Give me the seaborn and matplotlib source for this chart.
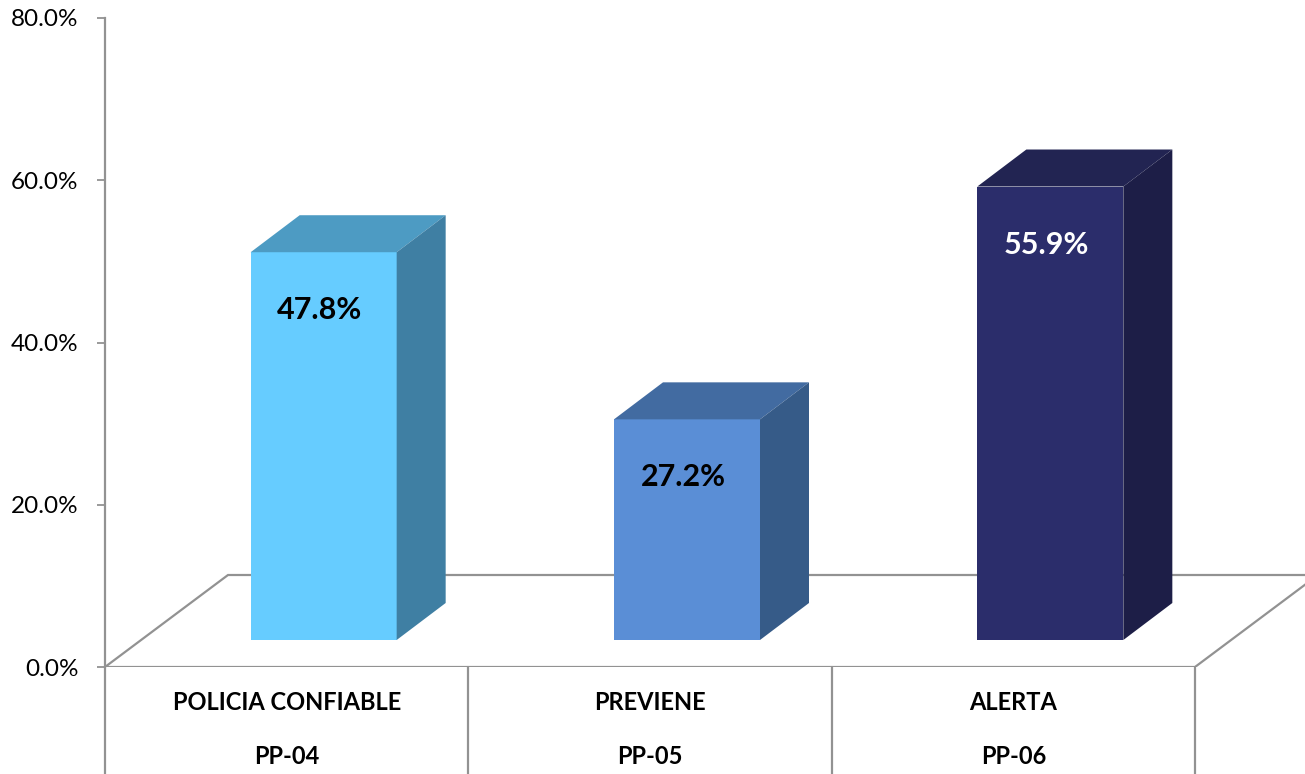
import matplotlib
matplotlib.use("Agg")
import matplotlib.pyplot as plt
import seaborn as sns
import pandas as pd
from matplotlib.patches import Polygon
from matplotlib.lines import Line2D
from matplotlib.ticker import FuncFormatter

# ---- data ----
categories = ["POLICIA CONFIABLE", "PREVIENE", "ALERTA"]
codes = ["PP-04", "PP-05", "PP-06"]
values = [47.8, 27.2, 55.9]
value_labels = ["47.8%", "27.2%", "55.9%"]
yticks = [0, 20, 40, 60, 80]

front_colors = ["#66CCFF", "#5A8ED6", "#2B2D6B"]
top_colors = ["#4D9BC3", "#426BA1", "#222452"]
side_colors = ["#3F7FA3", "#365B88", "#1D1E47"]
label_colors = ["black", "black", "white"]

sns.set_theme(style="white")
plt.rcParams["font.family"] = ["Lato", "DejaVu Sans"]

W, H = 1305, 774
fig = plt.figure(figsize=(W / 100, H / 100), dpi=100)
ax_left, ax_right, ax_bottom, ax_top = 105, 1305, 667, 18
ax = fig.add_axes([ax_left / W, 1 - ax_bottom / H, (ax_right - ax_left) / W, (ax_bottom - ax_top) / H])

px_x = (1195 - 105) / 3.0         # pixels per category unit
px_y = (667 - 18) / 80.0          # pixels per percent

# depth geometry
floor_dx, floor_dy = 123 / px_x, 92 / px_y
front_dx, front_dy = 37 / px_x, 27 / px_y
side_dx, side_dy = 49 / px_x, 37 / px_y
bar_w = 146 / px_x

df = pd.DataFrame({"cat": categories, "val": values})
sns.barplot(data=df, x="cat", y="val", hue="cat", palette=front_colors,
            width=bar_w, legend=False, ax=ax, saturation=1, zorder=3)
bars = list(ax.patches)

ax.set_xlim(-0.5, -0.5 + (ax_right - ax_left) / px_x)
ax.set_ylim(0, 80)

# floor
gray = "#929292"
floor = Polygon([(-0.5, 0), (2.5, 0), (2.5 + floor_dx, floor_dy), (-0.5 + floor_dx, floor_dy)],
                closed=True, facecolor="white", edgecolor=gray, linewidth=1.6, zorder=1)
ax.add_patch(floor)

for i, p in enumerate(bars):
    p.set_x(p.get_x() + front_dx)
    p.set_y(front_dy)
    p.set_edgecolor("none")
    x0 = p.get_x()
    x1 = x0 + p.get_width()
    b = p.get_y()
    t = b + p.get_height()
    ax.add_patch(Polygon([(x0, t), (x1, t), (x1 + side_dx, t + side_dy), (x0 + side_dx, t + side_dy)],
                         closed=True, facecolor=top_colors[i], edgecolor="none", zorder=3))
    ax.add_patch(Polygon([(x1, b), (x1 + side_dx, b + side_dy), (x1 + side_dx, t + side_dy), (x1, t)],
                         closed=True, facecolor=side_colors[i], edgecolor="none", zorder=3))
    ax.text(x0 + p.get_width() / 2 - 4 / px_x, t - 58 / px_y, value_labels[i],
            ha="center", va="center", fontsize=22, fontweight="bold",
            color=label_colors[i], zorder=5)

# axes styling
for s in ["top", "right", "bottom"]:
    ax.spines[s].set_visible(False)
ax.spines["left"].set_color(gray)
ax.spines["left"].set_linewidth(1.6)
ax.set_xticks([])
ax.set_yticks(yticks)
ax.yaxis.set_major_formatter(FuncFormatter(lambda v, _: f"{v:.1f}%"))
ax.tick_params(axis="y", left=True, length=6, width=1.3, color=gray, pad=13,
               labelsize=17.5, labelcolor="black")
ax.set_xlabel("")
ax.set_ylabel("")

# category table below floor
bottom_y = -(H - ax_bottom) / px_y - 1
for k in range(4):
    xs = -0.5 + k
    ax.add_line(Line2D([xs, xs], [0, bottom_y], color=gray, linewidth=1.6, clip_on=False, zorder=2))
for i in range(3):
    ax.text(i, -36 / px_y, categories[i], ha="center", va="center", fontsize=17,
            fontweight="bold", color="black", clip_on=False)
    ax.text(i, -90 / px_y, codes[i], ha="center", va="center", fontsize=17,
            fontweight="bold", color="black", clip_on=False)

fig.savefig("out.png", dpi=100)
